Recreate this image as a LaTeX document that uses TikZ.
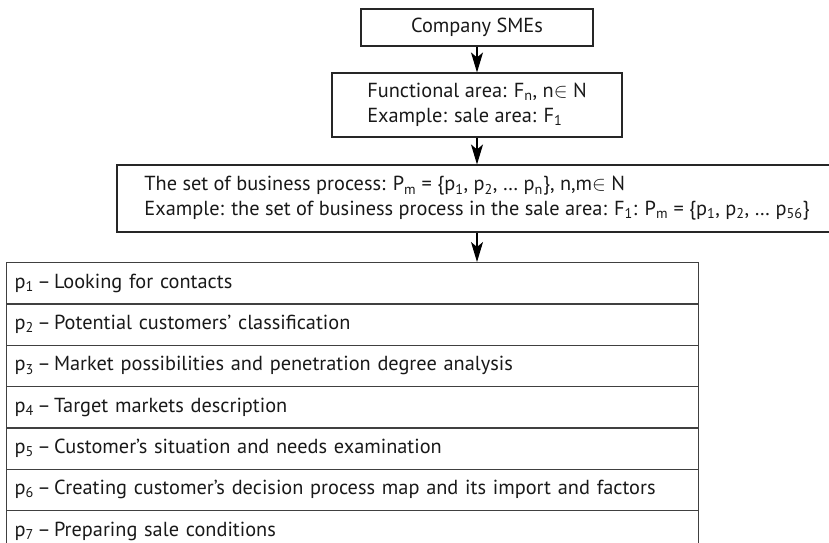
\documentclass[tikz,border=0pt]{standalone}
\usepackage{fontspec}
\setmainfont{PT Sans}
\usetikzlibrary{positioning,arrows.meta}
\newcommand{\lo}[1]{\textsubscript{#1}}

\tikzset{
  every node/.style={font=\fontsize{20.4}{25}\selectfont, text=black!90},
  stepbox/.style={draw=black!85, line width=1.1bp, align=left, inner sep=0pt},
  rowbox/.style={draw=black!75, line width=1.3bp, anchor=north west, minimum width=692bp, minimum height=41.3bp, text width=676bp, inner xsep=8bp, inner ysep=0pt, align=left},
  flow/.style={draw=black, line width=1.1bp, -{Stealth[length=20bp,width=12bp,inset=5bp]}}
}

\begin{document}
\begin{tikzpicture}[x=1bp,y=-1bp]
  \useasboundingbox (0,0) rectangle (829,543);
  \node[stepbox, minimum width=232bp, minimum height=37bp] (smes) at (477,27.5) {Company SMEs};
  \node[stepbox, minimum width=290bp, minimum height=64bp] (area) at (477,105)
    {Functional area: F\lo{n}, n$\in$ N\\Example: sale area: F\lo{1}};
  \node[stepbox, minimum width=720bp, minimum height=67bp] (procs) at (477,198.5)
    {The set of business process: P\lo{m} = \{p\lo{1}, p\lo{2}, … p\lo{n}\}, n,m$\in$ N\\Example: the set of business process in the sale area: F\lo{1}: P\lo{m} = \{p\lo{1}, p\lo{2}, … p\lo{56}\}};
  \foreach \idx/\txt in {1/Looking for contacts,
                         2/Potential customers’ classification,
                         3/Market possibilities and penetration degree analysis,
                         4/Target markets description,
                         5/Customer’s situation and needs examination,
                         6/Creating customer’s decision process map and its import and factors,
                         7/Preparing sale conditions}
    \node[rowbox] (row\idx) at (6,{262+41.3*(\idx-1)}) {p\lo{\idx}\,–\,\txt};
  \draw[flow] (smes) -- (area);
  \draw[flow] (area) -- (procs);
  \draw[flow] (procs.south) -- (procs.south |- row1.north);
\end{tikzpicture}
\end{document}
